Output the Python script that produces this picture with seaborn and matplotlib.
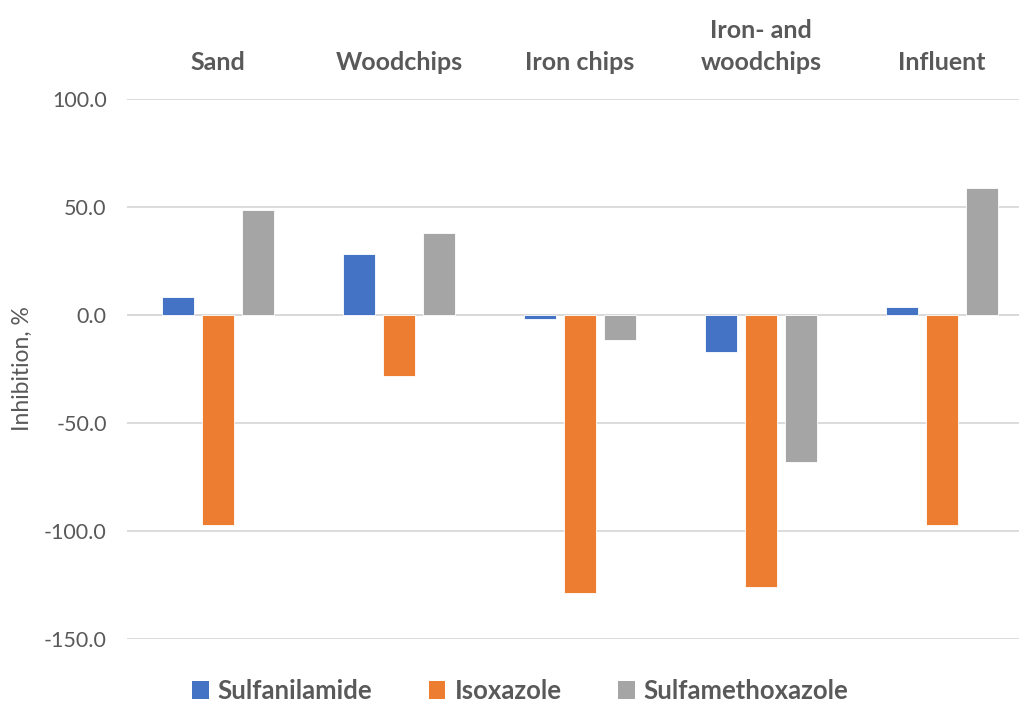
import matplotlib
matplotlib.use("Agg")
import matplotlib.pyplot as plt
import seaborn as sns
import pandas as pd
from matplotlib.patches import Patch

categories = ["Sand", "Woodchips", "Iron chips", "Iron- and\nwoodchips", "Influent"]
series_names = ["Sulfanilamide", "Isoxazole", "Sulfamethoxazole"]
sulfanilamide = [8.3, 28.1, -1.9, -17.0, 3.7]
isoxazole = [-97.2, -28.2, -128.9, -125.8, -97.2]
sulfamethoxazole = [48.6, 38.0, -11.6, -67.9, 58.9]
yticks = [100, 50, 0, -50, -100, -150]

colors = ["#4472C4", "#ED7D31", "#A5A5A5"]
text_color = "#595959"

rows = []
for name, vals in zip(series_names, [sulfanilamide, isoxazole, sulfamethoxazole]):
    for c, v in zip(categories, vals):
        rows.append({"Category": c, "Series": name, "Value": v})
df = pd.DataFrame(rows)

sns.set_theme(style="white")
plt.rcParams['font.family'] = ['Lato', 'DejaVu Sans']

fig = plt.figure(figsize=(10.2, 7.04), dpi=100)
ax = fig.add_axes([127.5 / 1020, 65 / 704, 905 / 1020, 540 / 704])

sns.barplot(data=df, x="Category", y="Value", hue="Series", order=categories,
            hue_order=series_names, palette=colors, width=0.663, gap=0.2,
            edgecolor="white", linewidth=0.6, saturation=1, ax=ax, legend=False, zorder=3)

ax.set_ylim(-150, 100)
ax.set_xlim(-0.5, 4.5)
ax.set_yticks(yticks)
ax.set_yticklabels([f"{t:.1f}" for t in yticks], color=text_color, fontsize=15.5)
ax.yaxis.grid(True, color="#D9D9D9", linewidth=1.3, zorder=0)
ax.xaxis.grid(False)
for s in ax.spines.values():
    s.set_visible(False)
ax.axhline(0, color="#D9D9D9", linewidth=1.3, zorder=1)

ax.xaxis.tick_top()
ax.set_xticks(range(len(categories)))
ax.set_xticklabels(categories, fontsize=18, fontweight="bold", color=text_color, linespacing=1.5)
ax.tick_params(axis="x", length=0, pad=18)
ax.tick_params(axis="y", length=0, pad=15)
ax.set_xlabel("")
ax.set_ylabel("Inhibition, %", fontsize=16.5, color=text_color, labelpad=8)

handles = [Patch(facecolor=c, edgecolor="none") for c in colors]
leg = fig.legend(handles, series_names, loc="center", bbox_to_anchor=(0.51, 1 - 691 / 704),
                 ncol=3, frameon=False, handlelength=0.65, handleheight=0.65,
                 columnspacing=2.2, handletextpad=0.35,
                 prop={"size": 18.5, "weight": "bold"})
for t in leg.get_texts():
    t.set_color(text_color)

fig.savefig("out.png", dpi=100)
